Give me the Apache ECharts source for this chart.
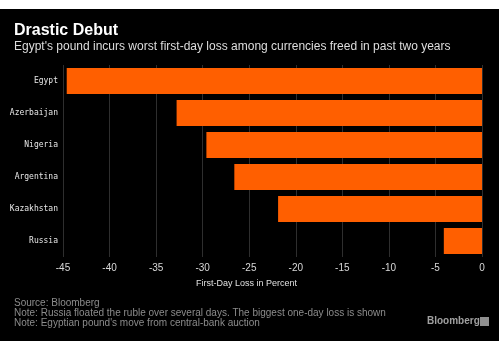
<!DOCTYPE html>
<html>
<head>
<meta charset="utf-8">
<script src="https://cdn.jsdelivr.net/npm/echarts@6/dist/echarts.min.js"></script>
<style>html,body{margin:0;padding:0;background:#fff}#c{width:500px;height:350px}</style>
</head>
<body>
<div id="c"></div>
<script>
var categories = ["Egypt", "Azerbaijan", "Nigeria", "Argentina", "Kazakhstan", "Russia"];
var firstDayLoss = [-44.6, -32.8, -29.6, -26.6, -21.9, -4.1];
var xTicks = [-45, -40, -35, -30, -25, -20, -15, -10, -5, 0];
var titleText = "Drastic Debut";
var subtitleText = "Egypt's pound incurs worst first-day loss among currencies freed in past two years";
var axisTitle = "First-Day Loss in Percent";
var footnotes = [
  "Source: Bloomberg",
  "Note: Russia floated the ruble over several days. The biggest one-day loss is shown",
  "Note: Egyptian pound's move from central-bank auction"
];

var chart = echarts.init(document.getElementById('c'), null, {renderer: 'canvas'});
var sans = "Liberation Sans";
var option = {
  backgroundColor: '#ffffff',
  animation: false,
  graphic: [
    {type: 'rect', z: -10, shape: {x: 0, y: 9, width: 499, height: 332}, style: {fill: '#000000'}},
    {type: 'text', left: 14, top: 23, style: {text: titleText, fill: '#ffffff', font: 'bold 16px ' + sans}},
    {type: 'text', left: 14, top: 41, style: {text: subtitleText, fill: '#dddddd', font: '12px ' + sans}},
    {type: 'text', left: 14, top: 298, style: {text: footnotes.join('\n'), fill: '#8c8c8c', font: '10px ' + sans, lineHeight: 10}},
    {type: 'text', left: 427, top: 316, style: {text: 'Bloomberg', fill: '#a0a0a0', font: 'bold 10px ' + sans}},
    {type: 'rect', shape: {x: 480, y: 317, width: 9, height: 9}, style: {fill: '#909090'}},
    {type: 'text', left: 196, top: 279, style: {text: axisTitle, fill: '#e0e0e0', font: '9px ' + sans}}
  ],
  grid: {left: 63, right: 18, top: 65, bottom: 93, containLabel: false},
  xAxis: {
    type: 'value', min: -45, max: 0, interval: 5,
    axisLine: {show: false}, axisTick: {show: false},
    splitLine: {show: true, lineStyle: {color: '#2e2e2e', width: 1}},
    axisLabel: {color: '#d8d8d8', fontFamily: sans, fontSize: 10, margin: 6,
      formatter: function (v) { return xTicks.indexOf(v) >= 0 ? String(v) : ''; }}
  },
  yAxis: {
    type: 'category', data: categories, inverse: true,
    axisLine: {show: false}, axisTick: {show: false}, splitLine: {show: false},
    axisLabel: {color: '#e6e6e6', fontFamily: 'DejaVu Sans Mono', fontSize: 8, margin: 5}
  },
  series: [{
    type: 'bar', data: firstDayLoss, barWidth: 26,
    itemStyle: {color: '#ff5f00'}
  }]
};
chart.setOption(option);
</script>
</body>
</html>
